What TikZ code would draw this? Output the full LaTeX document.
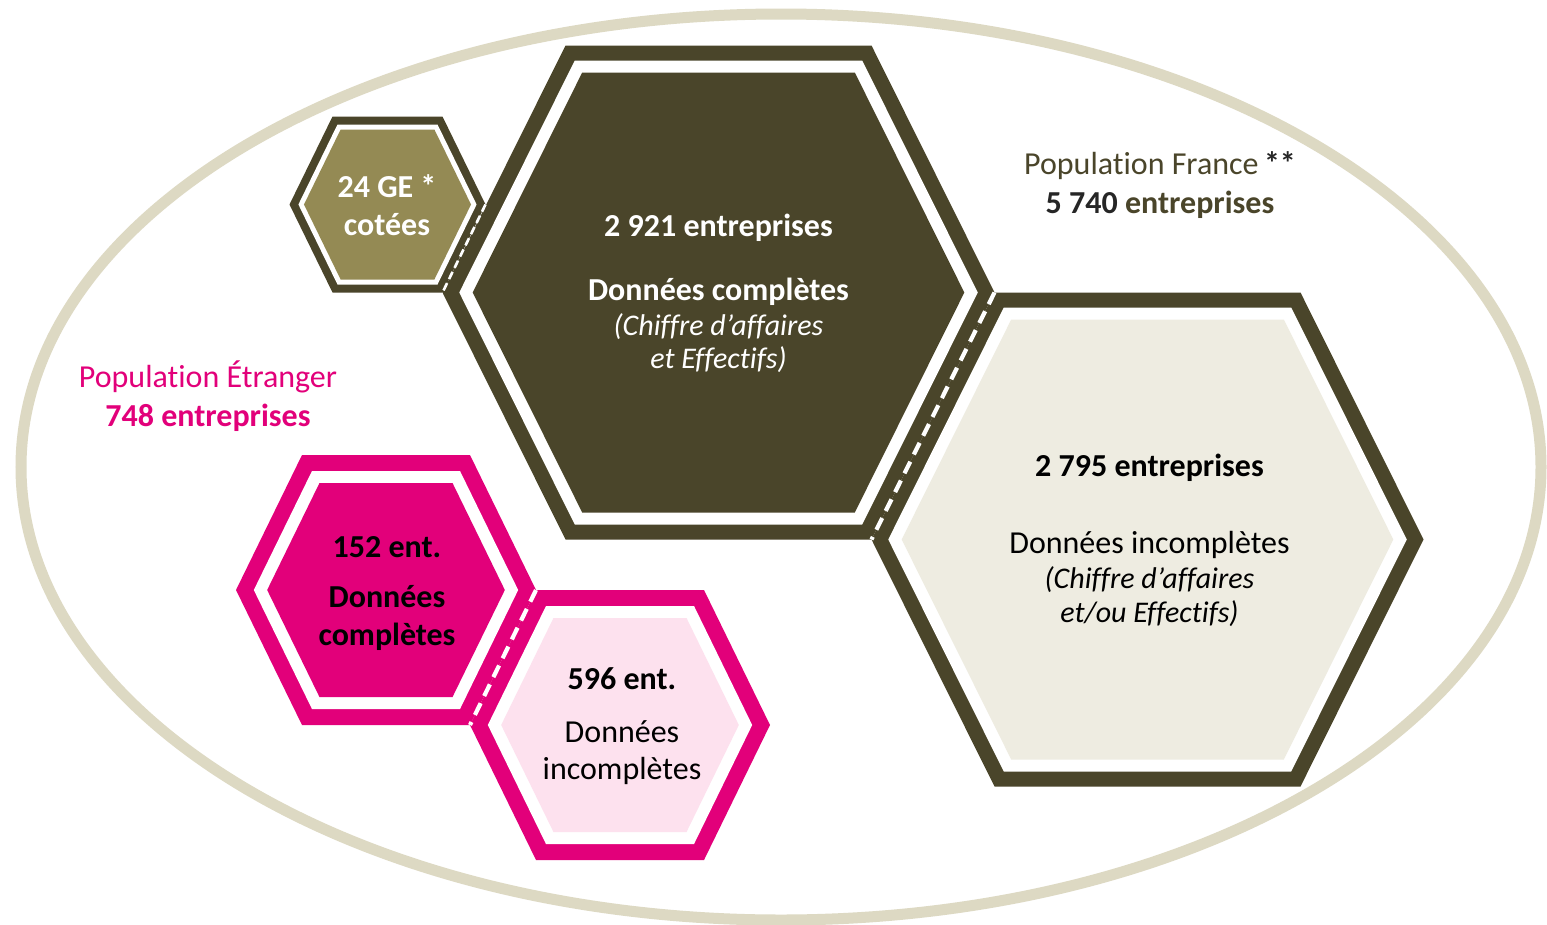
\documentclass[tikz,border=0pt]{standalone}
\usepackage{fontspec}
\setmainfont{Carlito}[Ligatures=NoCommon]
\definecolor{cOlive}{HTML}{4A452A}
\definecolor{cTan}{HTML}{948A54}
\definecolor{cBeige}{HTML}{EEECE1}
\definecolor{cEll}{HTML}{DDD9C3}
\definecolor{cMag}{HTML}{E2007A}
\definecolor{cPinkL}{HTML}{FDE1EE}
\definecolor{cDark}{HTML}{262626}
% #1 cx, #2 cy, #3 half width a, #4 half top edge b, #5 half height h, #6 inset, #7 colour
\newcommand\hexagonfill[7]{%
  \pgfmathsetmacro\hxR{((#3)-(#4))/(#5)}%
  \pgfmathsetmacro\hxL{sqrt(1+\hxR*\hxR)}%
  \pgfmathsetmacro\hxA{(#3)-(#6)*\hxL}%
  \pgfmathsetmacro\hxH{(#5)-(#6)}%
  \pgfmathsetmacro\hxB{\hxA-\hxR*\hxH}%
  \fill[#7] (#1-\hxA,#2) -- (#1-\hxB,#2-\hxH) -- (#1+\hxB,#2-\hxH) -- (#1+\hxA,#2)
     -- (#1+\hxB,#2+\hxH) -- (#1-\hxB,#2+\hxH) -- cycle;
}
% #1 cx #2 cy #3 a #4 b #5 h #6 border #7 gap #8 border colour #9 fill colour
\newcommand\hexcell[9]{%
  \hexagonfill{#1}{#2}{#3}{#4}{#5}{0}{#8}%
  \hexagonfill{#1}{#2}{#3}{#4}{#5}{#6}{white}%
  \hexagonfill{#1}{#2}{#3}{#4}{#5}{(#6)+(#7)}{#9}%
}
\begin{document}
\begin{tikzpicture}[x=1pt,y=-1pt,
  tx/.style={anchor=base, inner sep=0pt, font=\fontsize{32}{38}\selectfont},
  txb/.style={anchor=base, inner sep=0pt, font=\fontsize{32}{38}\selectfont\bfseries},
  txi/.style={anchor=base, inner sep=0pt, font=\fontsize{30}{36}\selectfont\itshape},
  bigdash/.style={draw=white, line width=4.2pt, dash pattern=on 13pt off 8pt},
  smalldash/.style={draw=white, line width=2.6pt, dash pattern=on 8pt off 4.5pt},
  ellstroke/.style={draw=cEll, line width=11pt}]
\fill[white] (0,0) rectangle (1547,924);
\useasboundingbox (0,0) rectangle (1547,924);
\draw[ellstroke] (781,467) ellipse [x radius=760pt, y radius=453pt];

% hexagons
\hexcell{718.5}{292.5}{276}{153}{247}{15}{12}{cOlive}{cOlive}
\hexcell{1147.5}{539.5}{276}{153}{247}{15}{12}{cOlive}{cBeige}
\hexcell{387.5}{204.5}{98}{55}{88}{8}{5}{cOlive}{cTan}
\hexcell{386}{590}{150}{84}{135}{16}{12}{cMag}{cMag}
\hexcell{620}{725}{150}{84}{135}{16}{12}{cMag}{cPinkL}

% shared edges
\coordinate (h0R) at (485.5,204.5);
\coordinate (h0BR) at (442.5,292.5);
\coordinate (h1R) at (994.5,292.5);
\coordinate (h1BR) at (871.5,539.5);
\coordinate (h3R) at (536,590);
\coordinate (h3BR) at (470,725);
\draw[smalldash] (h0R) -- (h0BR);
\draw[bigdash] (h1R) -- (h1BR);
\draw[bigdash] (h3R) -- (h3BR);

% texts
\node[txb, text=white] (t0a) at (387,197) {24 GE \textbf{*}};
\node[txb, text=white] (t0b) at (387,235) {cotées};

\node[txb, text=white] (t1a) at (718.5,236) {2 921 entreprises};
\node[txb, text=white] (t1b) at (718.5,300) {Données complètes};
\node[txi, text=white] (t1c) at (718.5,335) {(Chiffre d’affaires};
\node[txi, text=white] (t1d) at (718.5,368) {et Effectifs)};

\node[txb, text=black] (t2a) at (1149.5,476) {2 795 entreprises};
\node[tx, text=black] (t2b) at (1149.5,553) {Données incomplètes};
\node[txi, text=black] (t2c) at (1149.5,588.5) {(Chiffre d’affaires};
\node[txi, text=black] (t2d) at (1149.5,622) {et/ou Effectifs)};

\node[txb, text=black] (t3a) at (387,557) {152 ent.};
\node[txb, text=black] (t3b) at (387,607) {Données};
\node[txb, text=black] (t3c) at (387,645) {complètes};

\node[txb, text=black] (t4a) at (622,689.5) {596 ent.};
\node[tx, text=black] (t4b) at (622,742) {Données};
\node[tx, text=black] (t4c) at (622,779.5) {incomplètes};

\node[tx, text=cMag] (pe1) at (208,387) {Population Étranger};
\node[txb, text=cMag] (pe2) at (208,426) {748 entreprises};

\node[tx, text=cOlive] (pf1) at (1160,174) {Population France\,\textcolor{cDark}{\bfseries **}};
\node[txb, text=cOlive] (pf2) at (1160,213.5) {\textcolor{cDark}{5 740} entreprises};
\end{tikzpicture}
\end{document}
